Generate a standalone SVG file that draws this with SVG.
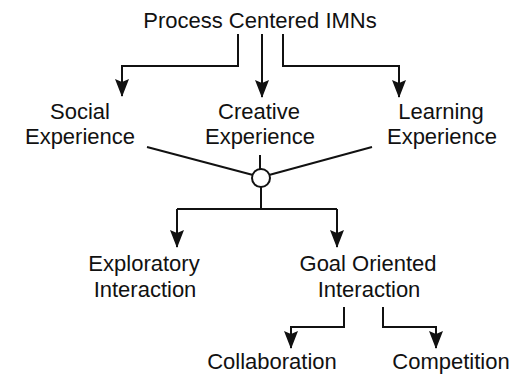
<svg xmlns="http://www.w3.org/2000/svg" width="523" height="380" viewBox="0 0 523 380">
<style>
text{font-family:"Liberation Sans",Arial,sans-serif;font-size:22px;fill:#111;text-anchor:middle}
.c{fill:none;stroke:#111;stroke-width:2}
</style>
<defs>
<marker id="ah" viewBox="0 0 18 14" refX="17" refY="7" markerWidth="18" markerHeight="14" markerUnits="userSpaceOnUse" orient="auto">
<path d="M0,0 L18,7 L0,14 L3,7 z" fill="#111"/>
</marker>
</defs>
<rect width="523" height="380" fill="#fff"/>
<g id="connectors">
<path class="c" d="M238 34 V66 H122 V96" marker-end="url(#ah)"/>
<path class="c" d="M262 34 V97" marker-end="url(#ah)"/>
<path class="c" d="M283 34 V66 H399 V97" marker-end="url(#ah)"/>
<path class="c" d="M147 147 L253 175"/>
<path class="c" d="M260 155 V169"/>
<path class="c" d="M372 147 L269 175"/>
<path class="c" d="M261 187 V209"/>
<path class="c" d="M177 209 H337"/>
<path class="c" d="M177 209 V247" marker-end="url(#ah)"/>
<path class="c" d="M337 209 V247" marker-end="url(#ah)"/>
<path class="c" d="M344 307 V327 H291 V348" marker-end="url(#ah)"/>
<path class="c" d="M383 307 V327 H436 V348" marker-end="url(#ah)"/>
</g>
<g id="process"><text x="260" y="28">Process Centered IMNs</text></g>
<g id="social"><text x="80" y="119">Social</text><text x="80" y="144">Experience</text></g>
<g id="creative"><text x="259" y="119">Creative</text><text x="260" y="144">Experience</text></g>
<g id="learning"><text x="441" y="119">Learning</text><text x="442" y="144">Experience</text></g>
<g id="junction"><circle cx="261" cy="178" r="9" fill="#fff" stroke="#111" stroke-width="2"/></g>
<g id="exploratory"><text x="144" y="271">Exploratory</text><text x="145" y="297">Interaction</text></g>
<g id="goal"><text x="368" y="271">Goal Oriented</text><text x="369" y="297">Interaction</text></g>
<g id="collaboration"><text x="272" y="369">Collaboration</text></g>
<g id="competition"><text x="451" y="369">Competition</text></g>
</svg>
